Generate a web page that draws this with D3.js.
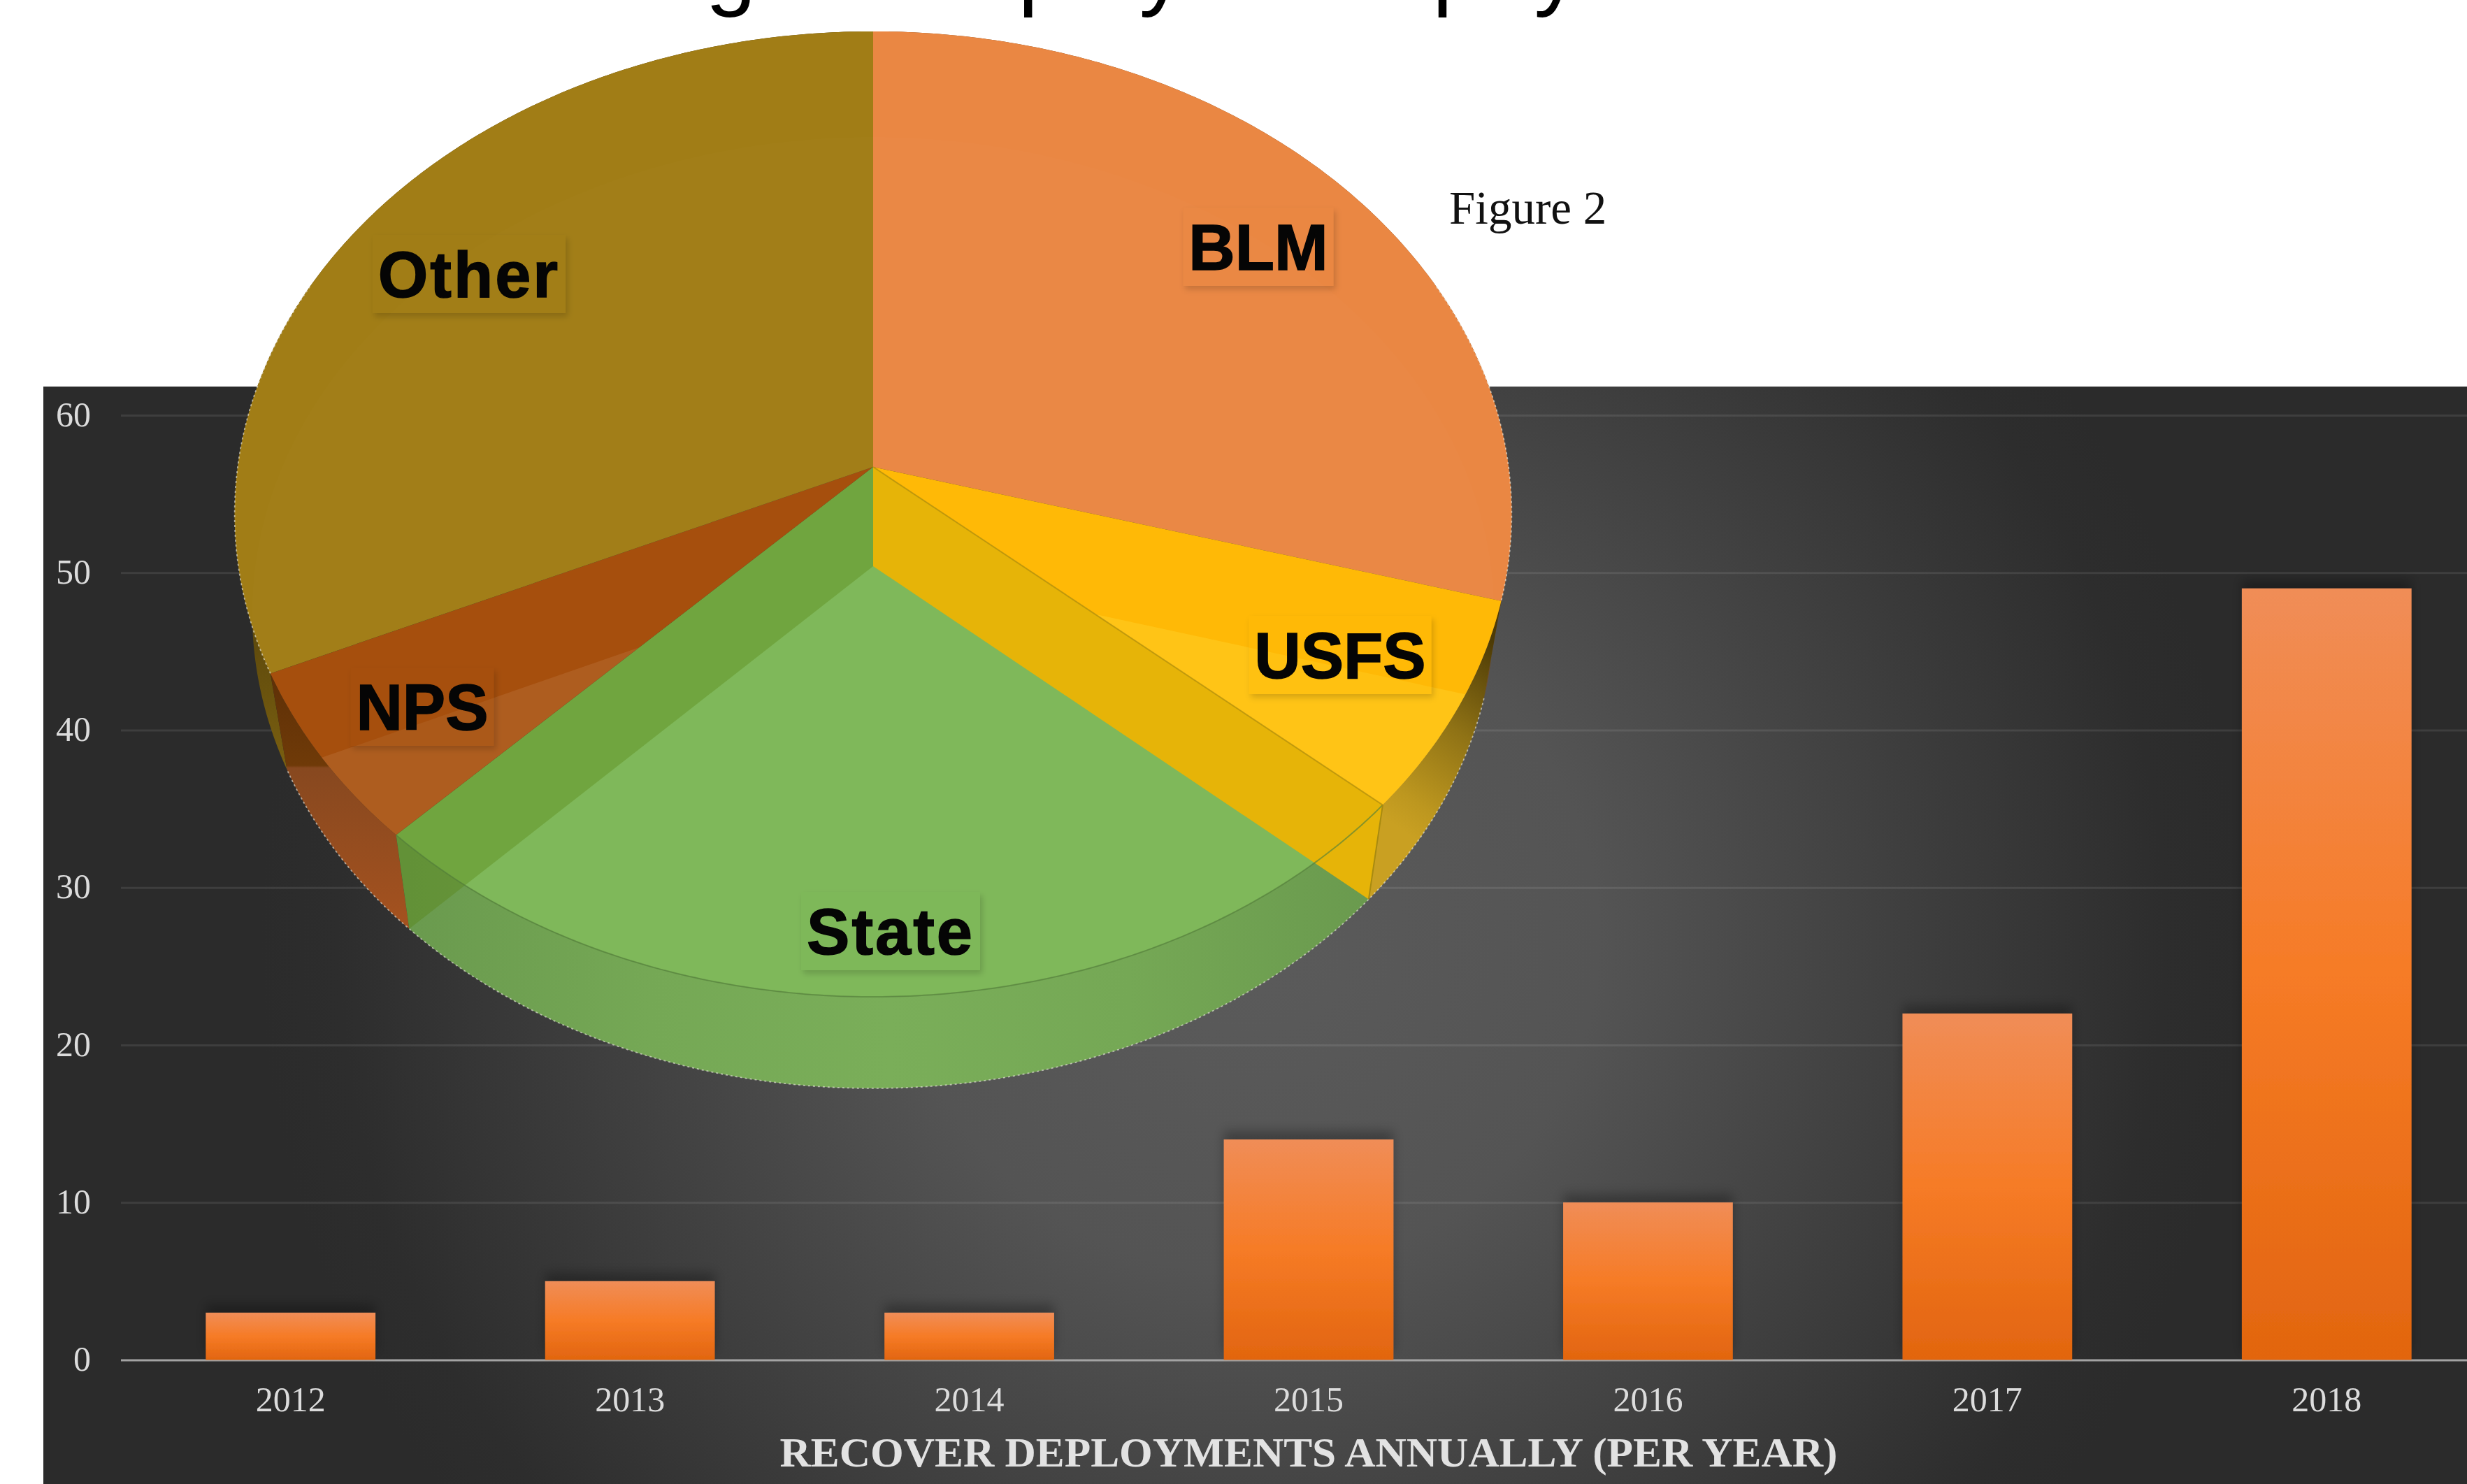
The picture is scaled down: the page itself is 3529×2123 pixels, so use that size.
<!DOCTYPE html>
<html><head><meta charset="utf-8">
<script src="https://cdn.jsdelivr.net/npm/d3@7"></script>
<style>html,body{margin:0;padding:0;background:#fff;overflow:hidden}svg{display:block;font-family:"Liberation Serif",serif}</style></head>
<body><svg id="c" width="3529" height="2123" viewBox="0 0 3529 2123"></svg>
<script>
const years = ["2012","2013","2014","2015","2016","2017","2018"];
const deployments = [3,5,3,14,10,22,49];
const yTicks = [0,10,20,30,40,50,60];
const agencies = ["BLM","USFS","State","NPS","Other"];
const agencyShares = [29.4,7.1,25.8,5.9,31.8];
const xTitle = "RECOVER DEPLOYMENTS ANNUALLY (PER YEAR)";
const figureLabel = "Figure 2";

const svg = d3.select("#c"), defs = svg.append("defs");
const W = 3529, H = 2123, P = {l:62,t:553};

// ---------- panel ----------
const bg = defs.append("radialGradient").attr("id","bg").attr("gradientUnits","userSpaceOnUse")
  .attr("cx",0).attr("cy",0).attr("r",1)
  .attr("gradientTransform","translate(1790,1340) scale(1420,1380)");
bg.append("stop").attr("offset",0).attr("stop-color","#5b5b5b");
bg.append("stop").attr("offset",.35).attr("stop-color","#545454");
bg.append("stop").attr("offset",.92).attr("stop-color","#2d2d2d");
bg.append("stop").attr("offset",1).attr("stop-color","#2b2b2b");
svg.append("rect").attr("x",P.l).attr("y",P.t).attr("width",W-P.l).attr("height",H-P.t).attr("fill","url(#bg)");

// ---------- bars ----------
const x = d3.scaleBand().domain(years).range([173,3571]).paddingInner(.5).paddingOuter(.25);
const y = d3.scaleLinear().domain([0,60]).range([1945.5,594]);

const gridG = svg.append("g");
gridG.call(d3.axisLeft(y).tickValues(yTicks).tickSize(0).tickPadding(0))
  .call(g=>g.select(".domain").remove());
gridG.selectAll(".tick text").attr("x",130).attr("text-anchor","end").attr("dy",".3em")
  .attr("font-size",50).attr("font-family","Liberation Serif").attr("fill","#dcdcdc");
gridG.selectAll(".tick").append("line").attr("x1",173).attr("x2",W)
  .attr("stroke",d=>d===0?"#a3a3a3":"#ffffff").attr("stroke-opacity",d=>d===0?1:.09)
  .attr("stroke-width",3);

const bgr = defs.append("linearGradient").attr("id","bar").attr("x1",0).attr("y1",0).attr("x2",0).attr("y2",1);
[[0,"#f08d57"],[.5,"#f67b26"],[1,"#e2650f"]].forEach(s=>bgr.append("stop").attr("offset",s[0]).attr("stop-color",s[1]));
const fb = defs.append("filter").attr("id","barShadow")
  .attr("filterUnits","userSpaceOnUse").attr("x",0).attr("y",0).attr("width",W).attr("height",H);
fb.append("feDropShadow").attr("dx",0).attr("dy",-12).attr("stdDeviation",8).attr("flood-color","#100808").attr("flood-opacity",.28);
svg.append("g").attr("filter","url(#barShadow)").selectAll("rect").data(deployments).join("rect")
  .attr("x",(d,i)=>x(years[i])).attr("width",x.bandwidth())
  .attr("y",d=>y(d)).attr("height",d=>y(0)-y(d)).attr("fill","url(#bar)");

const xG = svg.append("g").attr("transform","translate(0,1945.5)");
xG.call(d3.axisBottom(x).tickSize(0).tickPadding(38)).call(g=>g.select(".domain").remove());
xG.selectAll("text").attr("font-size",50).attr("font-family","Liberation Serif").attr("fill","#dcdcdc");

svg.append("text").attr("x",1872).attr("y",2098).attr("text-anchor","middle")
  .attr("font-size",60).attr("font-weight","bold").attr("fill","#e2e2e2")
  .attr("textLength",1513).attr("lengthAdjust","spacingAndGlyphs").text(xTitle);

// ---------- clipped title ----------
const title = svg.append("text").attr("y",-2).attr("font-size",130).attr("fill","#000")
  .style("font-family","'Liberation Sans',sans-serif");
title.append("tspan").attr("x",517).attr("letter-spacing",-3.5).text("Percentage of");
title.append("tspan").attr("x",1290).text("Deployed");
title.append("tspan").attr("x",1854).text("Emp");
title.append("tspan").attr("dx",-28).text("loyees");

svg.append("text").attr("x",2073).attr("y",320).attr("font-size",67).attr("fill","#111").text(figureLabel);

// ---------- perspective pie ----------
const cx = 1249, k = .0977;
const topFace = {ay:668, A:909, B:684};
const botFace = {ay:810, A:884, B:674};
const proj = (f,t)=>{const u=Math.sin(t),v=Math.cos(t),d=1+k*v;return [cx+f.A*u/d, f.ay-f.B*v/d];};
const arcPts = (f,a,b)=>{const n=Math.max(2,Math.ceil(Math.abs(b-a)/.01));return d3.range(n+1).map(i=>proj(f,a+(b-a)*i/n));};
const line = d3.line();
const sector = (f,a,b)=>line([[cx,f.ay],...arcPts(f,a,b)])+"Z";
const wall = (a,b)=>line([...arcPts(topFace,a,b),...arcPts(botFace,b,a)])+"Z";
const radial = (a)=>line([[cx,topFace.ay],proj(topFace,a),proj(botFace,a),[cx,botFace.ay]])+"Z";

const arcs = d3.pie().sort(null).startAngle(0).endAngle(2*Math.PI)(agencyShares);
const A = Object.fromEntries(agencies.map((n,i)=>[n,arcs[i]]));
const topColor = {BLM:"#ea8743",USFS:"#ffb906",State:"#7fb85a",NPS:"#a64f0d",Other:"#a17d16"};
const pie = svg.append("g");

function grad(id,x1,y1,x2,y2,stops){
  const g=defs.append("linearGradient").attr("id",id).attr("gradientUnits","userSpaceOnUse")
    .attr("x1",x1).attr("y1",y1).attr("x2",x2).attr("y2",y2);
  stops.forEach(s=>g.append("stop").attr("offset",s[0]).attr("stop-color",s[1]));
}
const pU0=proj(topFace,A.USFS.startAngle), pU1=proj(topFace,A.USFS.endAngle);
grad("wOther",0,800,0,1100,[[0,"#4f3e0a"],[1,"#7a5f10"]]);
grad("wUSFS",pU0[0]-10,pU0[1]+60,pU1[0]-10,pU1[1]+10,[[0,"#4d3b06"],[.45,"#8f7215"],[.85,"#bd971f"],[1,"#c9a022"]]);
grad("wNPS",0,proj(topFace,A.NPS.endAngle)[1],0,proj(botFace,A.NPS.startAngle)[1],
  [[0,"#5e3007"],[.36,"#6f3a08"],[.37,"#87481f"],[1,"#a5521f"]]);
grad("wState",proj(botFace,A.State.endAngle)[0],0,proj(botFace,A.State.startAngle)[0],0,
  [[0,"#6a9a4e"],[.25,"#75a855"],[.5,"#7aae59"],[.75,"#75a855"],[1,"#6a9a4e"]]);

// outer walls
pie.append("path").attr("d",wall(A.Other.startAngle,A.Other.endAngle)).attr("fill","url(#wOther)");
pie.append("path").attr("d",wall(A.BLM.startAngle,A.BLM.endAngle)).attr("fill","#7a4a20");
pie.append("path").attr("d",wall(A.USFS.startAngle,A.USFS.endAngle)).attr("fill","url(#wUSFS)");
pie.append("path").attr("d",wall(A.NPS.startAngle,A.NPS.endAngle)).attr("fill","url(#wNPS)");
pie.append("path").attr("d",wall(A.State.startAngle,A.State.endAngle)).attr("fill","url(#wState)");

// top faces
agencies.forEach(n=>{
  pie.append("path").attr("d",sector(topFace,A[n].startAngle,A[n].endAngle)).attr("fill",topColor[n]);
});

// far-face sectors seen through the top faces
[["USFS","#ffd22a",.45],["NPS","#c07a45",.33],["Other","#ffffff",.012],["BLM","#ffffff",.012]].forEach(([n,c,o])=>{
  const id="clip"+n;
  defs.append("clipPath").attr("id",id).append("path").attr("d",sector(topFace,A[n].startAngle,A[n].endAngle));
  pie.append("path").attr("clip-path",`url(#${id})`).attr("d",sector(botFace,A[n].startAngle,A[n].endAngle))
    .attr("fill",c).attr("fill-opacity",o);
});

// cut walls of the State slice
pie.append("path").attr("d",radial(A.State.startAngle)).attr("fill","#e6b408");
pie.append("path").attr("d",radial(A.State.endAngle)).attr("fill","#54810b").attr("fill-opacity",.34);
const rimState = d3.line()(arcPts(topFace,A.State.startAngle,A.State.endAngle));
pie.append("path").attr("d",rimState).attr("fill","none").attr("stroke","#55813a").attr("stroke-opacity",.65).attr("stroke-width",2);
pie.append("path").attr("d",line([proj(topFace,A.State.startAngle),proj(botFace,A.State.startAngle)]))
  .attr("fill","none").attr("stroke","#a88a10").attr("stroke-width",2);
pie.append("path").attr("d",line([[cx,topFace.ay],proj(topFace,A.State.startAngle)]))
  .attr("fill","none").attr("stroke","#b58f0a").attr("stroke-opacity",.7).attr("stroke-width",2);

// speckled cut-out edge over the dark panel
const deg = r=>r*180/Math.PI;
const edge = [[67,deg(A.BLM.endAngle),topFace],[deg(A.BLM.endAngle),deg(A.NPS.endAngle),botFace],[deg(A.NPS.endAngle),293,topFace]];
edge.forEach(([a,b,f])=>pie.append("path").attr("d",line(arcPts(f,a*Math.PI/180,b*Math.PI/180)))
  .attr("fill","none").attr("stroke","#f0efe4").attr("stroke-width",1.8).attr("stroke-dasharray","3 4").attr("stroke-opacity",.6));

// labels: an outer-only soft shadow, then a faint box, then the text
const fl = defs.append("filter").attr("id","lblShadow").attr("x","-10%").attr("y","-15%").attr("width","125%").attr("height","135%");
fl.append("feGaussianBlur").attr("in","SourceAlpha").attr("stdDeviation",4).attr("result","b");
fl.append("feOffset").attr("in","b").attr("dx",3).attr("dy",5).attr("result","o");
fl.append("feFlood").attr("flood-color","#000").attr("flood-opacity",.16).attr("result","f");
fl.append("feComposite").attr("in","f").attr("in2","o").attr("operator","in").attr("result","s");
fl.append("feComposite").attr("in","s").attr("in2","SourceAlpha").attr("operator","out");
const labelPos = {BLM:[1800,353],USFS:[1917,937],State:[1274,1332],NPS:[604,1011],Other:[671,392]};
agencies.forEach(n=>{
  const [lx,ly]=labelPos[n];
  const g=pie.append("g");
  const t=g.append("text").attr("x",lx).attr("y",ly+33).attr("text-anchor","middle")
    .style("font-family","'Liberation Sans',sans-serif").attr("font-weight","bold").attr("font-size",92)
    .attr("letter-spacing",(n==="Other"||n==="State")?3:0)
    .attr("fill","#050505").attr("stroke","#050505").attr("stroke-width",1.5).text(n);
  const b=t.node().getBBox();
  const bx=lx-b.width/2-8, bw=b.width+16;
  g.insert("rect","text").attr("x",bx).attr("y",ly-56).attr("width",bw).attr("height",112)
    .attr("fill","#000").attr("filter","url(#lblShadow)");
  g.insert("rect","text").attr("x",bx).attr("y",ly-56).attr("width",bw).attr("height",112)
    .attr("fill",topColor[n]).attr("fill-opacity",.3);
});
</script></body></html>
